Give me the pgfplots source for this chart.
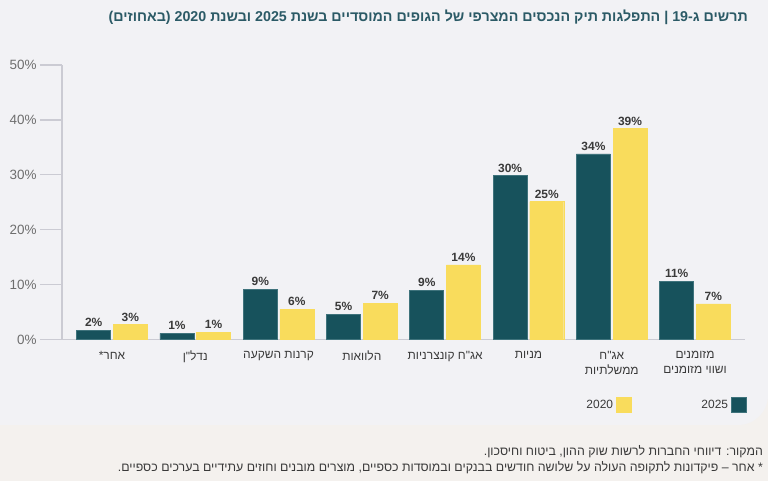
\documentclass[border=0pt]{standalone}
\usepackage{fontspec}
\setmainfont{Liberation Sans}
\newfontfamily\heb[Script=Hebrew]{Liberation Sans}
\usepackage{pgfplots}
\pgfplotsset{compat=1.18}
\TeXXeTstate=1

\definecolor{panel}{HTML}{F2F2F5}
\definecolor{foot}{HTML}{F4F1EE}
\definecolor{teal25}{HTML}{17525C}
\definecolor{tealedge}{HTML}{3F737C}
\definecolor{yel20}{HTML}{F9DC5C}
\definecolor{titlec}{HTML}{2B5A66}
\definecolor{axisc}{HTML}{CBCBD3}
\definecolor{tickc}{HTML}{6E6E6E}
\definecolor{labc}{HTML}{3A3A3A}

\pgfplotsset{
  sqleg/.style={legend image code/.code={\draw[##1,/tikz/.cd] (0bp,-7.5bp) rectangle (15bp,7.5bp);}},
}

\begin{document}
\begin{tikzpicture}[x=1bp,y=1bp]
\fill[foot] (0,0) rectangle (768,481);
\fill[panel] (0,56) -- (0,481) -- (768,481) -- (768,86) to[out=-90,in=0] (738,56) -- cycle;
\path[use as bounding box] (0,0) rectangle (768,481);

\begin{axis}[
  name=ax,
  at={(62bp,141.5bp)}, anchor=south west,
  scale only axis, width=683bp, height=274.5bp,
  xmin=-0.6, xmax=7.6, ymin=0, ymax=50,
  ybar, bar width=34bp,
  axis x line*=bottom, axis y line*=left,
  axis line style={axisc, line width=1.3bp},
  tick align=outside, major tick length=22bp,
  ytick={0,10,20,30,40,50},
  yticklabels={0\%,10\%,20\%,30\%,40\%,50\%},
  ytick style={axisc, line width=1.3bp},
  yticklabel style={font=\fontsize{13.5}{15}\selectfont, text=tickc},
  xtick={0,...,7},
  xtick style={draw=none},
  xticklabels={{\heb\beginR אחר*\endR}, {\heb\beginR נדל"ן\endR},
    {\heb\beginR קרנות השקעה\endR}, {\heb\beginR הלוואות\endR},
    {\heb\beginR אג"ח קונצרניות\endR}, {\heb\beginR מניות\endR},
    {\heb\beginR אג"ח\endR\\\heb\beginR ממשלתיות\endR},
    {\heb\beginR מזומנים\endR\\\heb\beginR ושווי מזומנים\endR}},
  xticklabel style={align=center, font=\fontsize{12}{15}\selectfont, text=labc, yshift=14bp},
  nodes near coords, point meta=explicit symbolic,
  nodes near coords style={font=\bfseries\fontsize{12}{13}\selectfont, text=labc, yshift=0bp},
  legend columns=2, legend plot pos=right,
  legend style={draw=none, fill=none, inner sep=0pt,
    at={(1.003,-0.239)}, anchor=east,
    font=\fontsize{12}{13}\selectfont, text=labc,
    column sep=1bp, /tikz/column 2/.style={column sep=68bp}},
]
\addplot[sqleg, fill=yel20, draw=yel20, bar shift=18.3bp]
  coordinates {(0,2.7)[3\%] (1,1.3)[1\%] (2,5.5)[6\%] (3,6.6)[7\%]
               (4,13.6)[14\%] (5,25.1)[25\%] (6,38.4)[39\%] (7,6.5)[7\%]};
\addlegendentry{2020}
\addplot[sqleg, fill=teal25, draw=tealedge, line width=0.8bp, bar shift=-18.3bp]
  coordinates {(0,1.6)[2\%] (1,1.1)[1\%] (2,9.1)[9\%] (3,4.6)[5\%]
               (4,9.0)[9\%] (5,29.8)[30\%] (6,33.8)[34\%] (7,10.6)[11\%]};
\addlegendentry{2025}
\end{axis}

\node[anchor=east, inner sep=0pt, text=titlec, font=\bfseries\fontsize{14.3}{16}\selectfont]
  at (748,464) {\heb\beginR תרשים ג-19 | התפלגות תיק הנכסים המצרפי של הגופים המוסדיים בשנת 2025 ובשנת 2020 (באחוזים)\endR};
\node[anchor=east, inner sep=0pt, text=labc, font=\fontsize{12.4}{14}\selectfont]
  at (763,29) {\heb\beginR המקור: דיווחי החברות לרשות שוק ההון, ביטוח וחיסכון.\endR};
\node[anchor=east, inner sep=0pt, text=labc, font=\fontsize{12.4}{14}\selectfont]
  at (763,13) {\heb\beginR * אחר – פיקדונות לתקופה העולה על שלושה חודשים בבנקים ובמוסדות כספיים, מוצרים מובנים וחוזים עתידיים בערכים כספיים.\endR};
\end{tikzpicture}
\end{document}
